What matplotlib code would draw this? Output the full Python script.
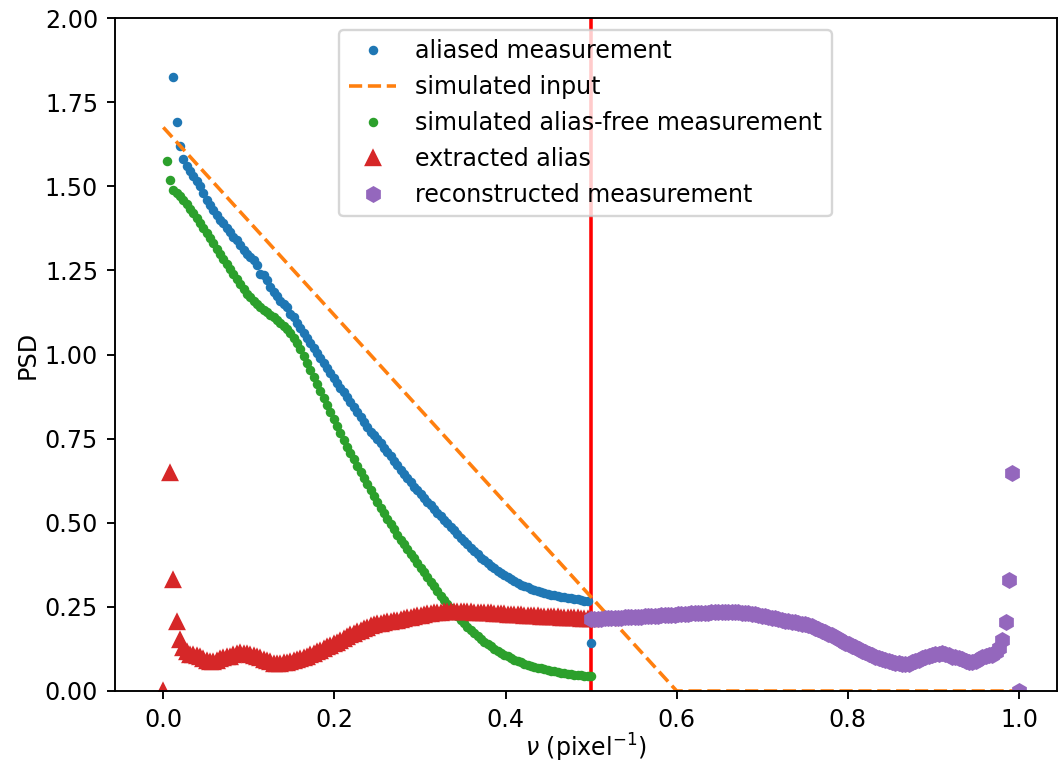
import numpy as np
import matplotlib
matplotlib.use("Agg")
import matplotlib.pyplot as plt

# frequency bins (k/256)
n_bins = 129
freq = np.arange(n_bins) / 256.0

# aliased measurement, bins k = 3 .. 128
aliased_start = 3
aliased = [
    1.824, 1.69, 1.62, 1.58, 1.56, 1.545, 1.53, 1.515, 1.50, 1.48,
    1.46, 1.445, 1.43, 1.415, 1.40, 1.39, 1.375, 1.365, 1.35, 1.34,
    1.325, 1.31, 1.30, 1.29, 1.28, 1.265, 1.24, 1.235, 1.22, 1.20,
    1.185, 1.175, 1.16, 1.15, 1.14, 1.12, 1.11, 1.095, 1.08, 1.065,
    1.05, 1.035, 1.02, 1.005, 0.99, 0.975, 0.96, 0.945, 0.93, 0.915,
    0.90, 0.89, 0.875, 0.86, 0.845, 0.83, 0.815, 0.80, 0.785, 0.77,
    0.76, 0.748, 0.736, 0.722, 0.71, 0.697, 0.684, 0.671, 0.658, 0.645,
    0.632, 0.62, 0.607, 0.596, 0.585, 0.574, 0.563, 0.552, 0.541, 0.53,
    0.519, 0.508, 0.498, 0.487, 0.477, 0.466, 0.456, 0.446, 0.436, 0.426,
    0.416, 0.406, 0.396, 0.388, 0.38, 0.372, 0.365, 0.358, 0.351, 0.344,
    0.338, 0.332, 0.326, 0.321, 0.316, 0.312, 0.308, 0.304, 0.30, 0.297,
    0.294, 0.291, 0.288, 0.286, 0.284, 0.282, 0.280, 0.278, 0.276, 0.275,
    0.273, 0.272, 0.27, 0.268, 0.266, 0.143,
]

# simulated alias-free measurement, bins k = 1 .. 128
aliasfree_start = 1
alias_free = [
    1.575, 1.518, 1.49, 1.48, 1.47, 1.46, 1.447, 1.433, 1.42, 1.405,
    1.39, 1.375, 1.36, 1.345, 1.33, 1.315, 1.30, 1.285, 1.27, 1.255,
    1.24, 1.225, 1.21, 1.195, 1.18, 1.17, 1.16, 1.15, 1.14, 1.132,
    1.125, 1.118, 1.11, 1.102, 1.094, 1.085, 1.075, 1.065, 1.05, 1.033,
    1.015, 0.995, 0.975, 0.955, 0.934, 0.913, 0.892, 0.871, 0.85, 0.829,
    0.808, 0.787, 0.766, 0.745, 0.726, 0.707, 0.688, 0.67, 0.652, 0.634,
    0.616, 0.598, 0.58, 0.562, 0.545, 0.528, 0.512, 0.496, 0.48, 0.465,
    0.45, 0.436, 0.422, 0.408, 0.395, 0.381, 0.367, 0.353, 0.339, 0.325,
    0.311, 0.297, 0.283, 0.27, 0.258, 0.246, 0.234, 0.223, 0.212, 0.201,
    0.191, 0.181, 0.172, 0.163, 0.155, 0.147, 0.14, 0.133, 0.126, 0.12,
    0.114, 0.108, 0.103, 0.098, 0.093, 0.089, 0.085, 0.081, 0.078, 0.075,
    0.072, 0.069, 0.067, 0.064, 0.062, 0.06, 0.058, 0.056, 0.054, 0.053,
    0.051, 0.05, 0.049, 0.048, 0.047, 0.046, 0.045, 0.044,
]

# extracted alias, bins k = 0 .. 128 (bin 1 outside the plotted range)
extracted = [
    0.0, np.nan, 0.648, 0.33, 0.206, 0.152, 0.127, 0.115, 0.108, 0.107,
    0.105, 0.10, 0.095, 0.09, 0.085, 0.087, 0.09, 0.094, 0.098, 0.10,
    0.102, 0.106, 0.11, 0.112, 0.111, 0.11, 0.108, 0.104, 0.10, 0.097,
    0.093, 0.09, 0.085, 0.08, 0.08, 0.081, 0.082, 0.084, 0.086, 0.089,
    0.092, 0.095, 0.099, 0.102, 0.106, 0.11, 0.115, 0.12, 0.125, 0.13,
    0.135, 0.139, 0.144, 0.148, 0.154, 0.159, 0.165, 0.17, 0.175, 0.179,
    0.184, 0.188, 0.192, 0.196, 0.198, 0.2, 0.202, 0.204, 0.205, 0.207,
    0.209, 0.211, 0.213, 0.216, 0.218, 0.22, 0.222, 0.224, 0.226, 0.228,
    0.229, 0.231, 0.232, 0.233, 0.234, 0.235, 0.236, 0.236, 0.236, 0.235,
    0.235, 0.234, 0.234, 0.233, 0.233, 0.232, 0.232, 0.231, 0.231, 0.23,
    0.229, 0.229, 0.228, 0.227, 0.227, 0.226, 0.225, 0.225, 0.224, 0.224,
    0.223, 0.222, 0.222, 0.221, 0.221, 0.22, 0.22, 0.219, 0.219, 0.218,
    0.218, 0.217, 0.217, 0.216, 0.216, 0.215, 0.215, 0.215, 0.215,
]

# simulated input (piecewise linear)
input_freq = [0.0, 0.6, 1.0]
input_psd = [1.675, 0.0, 0.0]

nyquist = 0.5

DPI = 171
fig = plt.figure(figsize=(1058 / DPI, 769 / DPI), dpi=DPI)
ax = fig.add_axes([114.7 / 1058, 78 / 769, (1056.5 - 114.7) / 1058, 673 / 769])

ax.axvline(nyquist, color="red", lw=1.5)

ax.plot(freq[aliased_start:], aliased, ".", color="C0", label="aliased measurement")
ax.plot(input_freq, input_psd, "--", color="C1", label="simulated input")
ax.plot(freq[aliasfree_start:], alias_free, ".", color="C2",
        label="simulated alias-free measurement")
ax.plot(freq, extracted, "^", color="C3", label="extracted alias")
ax.plot(1.0 - freq, extracted, "h", color="C4",
        label="reconstructed measurement")

ax.set_ylim(0, 2)
x0, scale = 163.3, 855.7
ax.set_xlim((114.7 - x0) / scale, (1056.5 - x0) / scale)
ax.set_yticks(np.arange(0, 2.01, 0.25))
ax.set_xticks(np.arange(0, 1.01, 0.2))
ax.set_xlabel(r"$\nu$ (pixel$^{-1}$)", labelpad=0)
ax.set_ylabel("PSD", labelpad=2)
ax.legend(loc="upper center")

fig.savefig("out.png", dpi=DPI)
